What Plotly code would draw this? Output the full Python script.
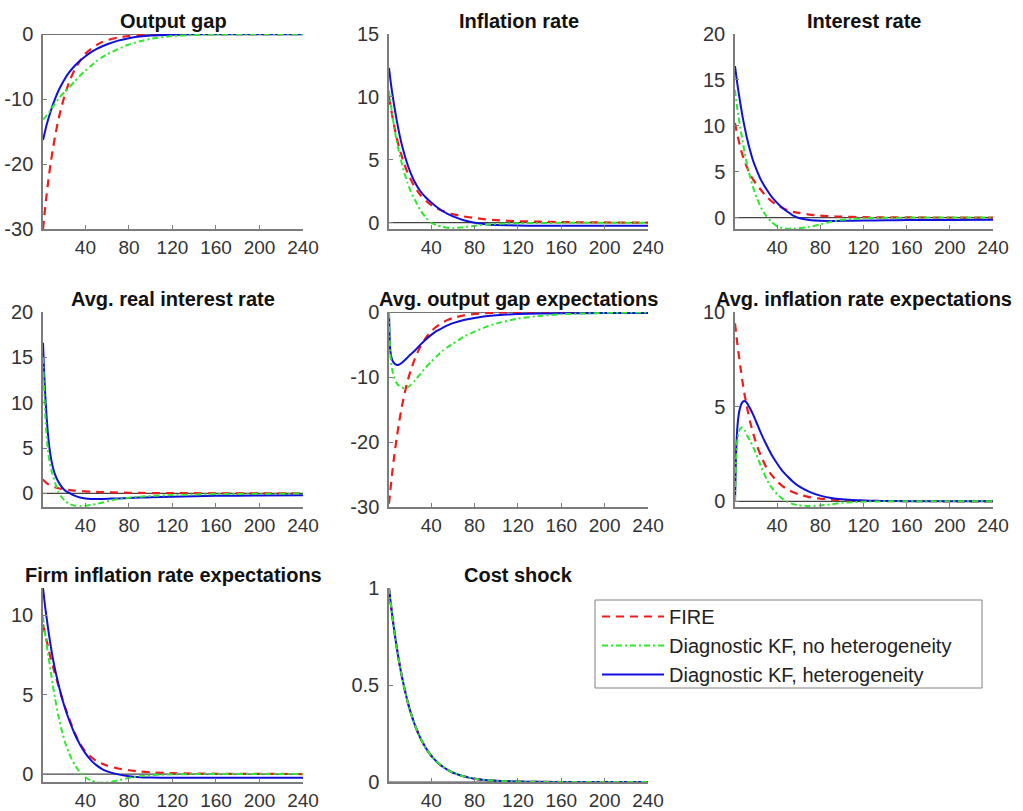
import plotly.graph_objects as go

# ---------------- data ----------------
periods = [1, 2, 3, 4, 6, 8, 10, 12, 15, 18, 21, 25, 30, 35, 40, 45, 50, 55, 60,
           70, 80, 90, 100, 120, 140, 160, 200, 240]
x_tick_values = [40, 80, 120, 160, 200, 240]
series_names = ["FIRE", "Diagnostic KF, no heterogeneity", "Diagnostic KF, heterogeneity"]

titles = ["Output gap", "Inflation rate", "Interest rate",
          "Avg. real interest rate", "Avg. output gap expectations",
          "Avg. inflation rate expectations",
          "Firm inflation rate expectations", "Cost shock"]

# Output gap
gap_fire = [-30, -28.3, -26.7, -25.2, -22.4, -19.9, -17.8, -15.8, -13.3, -11.2, -9.4, -7.4, -5.5, -4.1,
            -3.0, -2.3, -1.7, -1.25, -0.93, -0.52, -0.29, -0.16, -0.09, -0.03, -0.01, 0, 0, 0]
gap_nohet = [-13.1, -13.0, -12.8, -12.6, -12.2, -11.7, -11.2, -10.7, -10.0, -9.4, -8.9, -8.2, -7.3, -6.4,
             -5.6, -4.9, -4.2, -3.6, -3.1, -2.3, -1.6, -1.1, -0.72, -0.3, -0.12, -0.05, -0.01, 0]
gap_het = [-16.3, -15.6, -14.9, -14.2, -13.0, -11.9, -10.9, -10.0, -8.8, -7.8, -6.9, -5.9, -4.9, -4.1,
           -3.4, -2.8, -2.3, -1.9, -1.55, -1.0, -0.62, -0.38, -0.22, -0.08, -0.03, -0.01, 0, 0]

# Inflation rate
infl_fire = [10.0, 9.5, 9.0, 8.5, 7.6, 6.8, 6.1, 5.5, 4.7, 4.0, 3.45, 2.8, 2.2, 1.75,
             1.4, 1.15, 0.95, 0.8, 0.68, 0.5, 0.37, 0.27, 0.2, 0.12, 0.08, 0.05, 0.02, 0.01]
infl_nohet = [10.5, 9.8, 9.2, 8.6, 7.5, 6.5, 5.7, 5.0, 4.0, 3.2, 2.5, 1.8, 1.0, 0.4,
              0.0, -0.2, -0.33, -0.4, -0.42, -0.36, -0.24, -0.15, -0.09, -0.04, -0.02, -0.01, 0, 0]
infl_het = [12.3, 11.6, 10.9, 10.3, 9.2, 8.2, 7.3, 6.5, 5.5, 4.65, 3.95, 3.2, 2.5, 2.0,
            1.6, 1.25, 0.95, 0.7, 0.5, 0.2, 0.0, -0.12, -0.18, -0.23, -0.24, -0.25, -0.25, -0.25]

# Interest rate
rate_fire = [10.3, 9.7, 9.1, 8.6, 7.6, 6.8, 6.1, 5.5, 4.7, 4.1, 3.6, 3.0, 2.3, 1.75,
             1.35, 1.05, 0.8, 0.62, 0.5, 0.32, 0.2, 0.13, 0.09, 0.04, 0.02, 0.01, 0, 0]
rate_nohet = [13.9, 12.9, 12.0, 11.2, 9.7, 8.4, 7.0, 5.9, 4.4, 3.2, 2.2, 1.1, 0.15, -0.5,
              -0.95, -1.15, -1.22, -1.22, -1.18, -1.02, -0.75, -0.45, -0.25, -0.08, -0.03, -0.01, 0, 0]
rate_het = [16.5, 15.6, 14.7, 13.9, 12.4, 11.0, 9.8, 8.7, 7.3, 6.1, 5.2, 4.1, 3.1, 2.25,
            1.6, 1.05, 0.6, 0.2, -0.05, -0.27, -0.35, -0.37, -0.36, -0.33, -0.3, -0.28, -0.26, -0.25]

# Avg. real interest rate
real_fire = [1.55, 1.4, 1.28, 1.17, 1.0, 0.87, 0.76, 0.67, 0.57, 0.49, 0.43, 0.37, 0.31, 0.26,
             0.22, 0.19, 0.16, 0.14, 0.12, 0.09, 0.07, 0.05, 0.04, 0.03, 0.02, 0.01, 0, 0]
real_nohet = [15.0, 11.5, 8.8, 6.8, 4.3, 2.9, 2.0, 1.2, 0.2, -0.4, -0.8, -1.15, -1.35, -1.38,
              -1.35, -1.27, -1.17, -1.03, -0.88, -0.62, -0.47, -0.36, -0.28, -0.18, -0.12, -0.08, -0.04, -0.02]
real_het = [16.6, 13.5, 11.0, 9.0, 6.0, 4.1, 2.9, 2.1, 1.3, 0.75, 0.35, 0.05, -0.25, -0.45,
            -0.57, -0.62, -0.63, -0.62, -0.6, -0.55, -0.5, -0.46, -0.42, -0.36, -0.31, -0.27, -0.23, -0.2]

# Avg. output gap expectations
egap_fire = [-29.5, -27.8, -26.2, -24.7, -21.9, -19.5, -17.3, -15.3, -12.8, -10.7, -9.0, -7.1, -5.3, -3.95,
             -2.95, -2.2, -1.65, -1.2, -0.9, -0.5, -0.28, -0.16, -0.09, -0.03, -0.01, 0, 0, 0]
egap_nohet = [0, -6.0, -7.8, -8.9, -10.2, -10.9, -11.3, -11.55, -11.7, -11.6, -11.2, -10.5, -9.5, -8.5,
              -7.6, -6.8, -6.0, -5.4, -4.85, -3.8, -3.0, -2.3, -1.75, -1.0, -0.58, -0.33, -0.12, -0.05]
egap_het = [0, -5.5, -6.8, -7.4, -7.9, -8.1, -8.1, -7.9, -7.5, -7.0, -6.5, -5.9, -5.0, -4.2,
            -3.5, -2.9, -2.45, -2.05, -1.7, -1.2, -0.9, -0.65, -0.48, -0.3, -0.22, -0.18, -0.15, -0.13]

# Avg. inflation rate expectations
einf_fire = [9.4, 8.9, 8.4, 7.95, 7.1, 6.3, 5.6, 5.0, 4.2, 3.55, 3.0, 2.4, 1.8, 1.38,
             1.05, 0.8, 0.62, 0.48, 0.37, 0.22, 0.14, 0.09, 0.06, 0.03, 0.015, 0.01, 0, 0]
einf_nohet = [0, 2.2, 3.1, 3.55, 3.85, 3.9, 3.75, 3.5, 3.2, 2.85, 2.45, 1.85, 1.2, 0.72,
              0.38, 0.13, -0.05, -0.15, -0.21, -0.25, -0.22, -0.16, -0.08, -0.02, 0, 0, 0, 0]
einf_het = [0, 2.6, 3.75, 4.4, 5.0, 5.25, 5.3, 5.2, 4.9, 4.55, 4.15, 3.6, 3.0, 2.45,
            2.0, 1.6, 1.3, 1.02, 0.8, 0.5, 0.3, 0.18, 0.11, 0.04, 0.02, 0.01, 0, 0]

# Firm inflation rate expectations
finf_fire = [9.4, 9.1, 8.8, 8.5, 7.9, 7.3, 6.8, 6.3, 5.6, 4.9, 4.25, 3.5, 2.6, 1.9,
             1.4, 1.08, 0.82, 0.66, 0.53, 0.35, 0.24, 0.16, 0.11, 0.06, 0.03, 0.02, 0.01, 0]
finf_nohet = [9.9, 9.3, 8.8, 8.3, 7.4, 6.5, 5.6, 4.8, 3.7, 2.8, 2.05, 1.3, 0.6, 0.12,
              -0.2, -0.4, -0.52, -0.55, -0.52, -0.4, -0.24, -0.13, -0.07, -0.02, 0, 0, 0, 0]
finf_het = [11.7, 11.1, 10.5, 10.0, 9.0, 8.1, 7.3, 6.6, 5.7, 4.9, 4.2, 3.4, 2.55, 1.85,
            1.3, 0.88, 0.56, 0.33, 0.17, -0.02, -0.14, -0.2, -0.22, -0.23, -0.23, -0.23, -0.23, -0.23]

# Cost shock (identical for all three)
cost_fire = [1, 0.95, 0.903, 0.857, 0.774, 0.698, 0.63, 0.569, 0.488, 0.418, 0.358, 0.292, 0.226, 0.175,
             0.135, 0.105, 0.081, 0.063, 0.048, 0.029, 0.017, 0.01, 0.006, 0.002, 0.001, 0, 0, 0]
cost_nohet = list(cost_fire)
cost_het = list(cost_fire)

y_tick_values = [[-30, -20, -10, 0], [0, 5, 10, 15], [0, 5, 10, 15, 20], [0, 5, 10, 15, 20],
                 [-30, -20, -10, 0], [0, 5, 10], [0, 5, 10], [0, 0.5, 1]]
y_tick_text = [["-30", "-20", "-10", "0"], ["0", "5", "10", "15"], ["0", "5", "10", "15", "20"],
               ["0", "5", "10", "15", "20"], ["-30", "-20", "-10", "0"], ["0", "5", "10"],
               ["0", "5", "10"], ["0", "0.5", "1"]]
y_ranges = [[-30, 0.02], [-0.5, 15], [-1.25, 20], [-1.5, 20],
            [-30, 0.02], [-0.3, 10], [-0.5, 11.7], [0, 1]]

panels = [(gap_fire, gap_nohet, gap_het), (infl_fire, infl_nohet, infl_het),
          (rate_fire, rate_nohet, rate_het), (real_fire, real_nohet, real_het),
          (egap_fire, egap_nohet, egap_het), (einf_fire, einf_nohet, einf_het),
          (finf_fire, finf_nohet, finf_het), (cost_fire, cost_nohet, cost_het)]

# ---------------- layout ----------------
W, H = 1023, 811
cols_px = [(43, 303), (389, 648), (735, 993)]
rows_px = [(34, 229), (312, 507), (588, 782)]

RED, GREEN, BLUE = "#ee1c1c", "#2ee82e", "#1010dd"
AXC = "#7c7c7c"
FONT = "Liberation Sans, Arial, sans-serif"

fig = go.Figure()
layout = dict(width=W, height=H, margin=dict(l=0, r=0, t=0, b=0, autoexpand=False),
              paper_bgcolor="white", plot_bgcolor="white", showlegend=True,
              font=dict(family=FONT, size=20, color="#333333"))
annotations = []

for i, (fire, nohet, het) in enumerate(panels):
    r, c = divmod(i, 3)
    x0, x1 = cols_px[c]
    y0, y1 = rows_px[r]
    suf = "" if i == 0 else str(i + 1)
    xa, ya = "x" + suf, "y" + suf
    layout["xaxis" + suf] = dict(
        domain=[x0 / W, x1 / W], anchor=ya, range=[1, 240], tickvals=x_tick_values,
        showline=True, linecolor=AXC, linewidth=1.5, ticks="inside", ticklen=4,
        tickcolor=AXC, showgrid=False, zeroline=False, ticklabelstandoff=0,
        tickfont=dict(size=19, color="#333333", family=FONT))
    layout["yaxis" + suf] = dict(
        domain=[1 - y1 / H, 1 - y0 / H], anchor=xa, range=y_ranges[i],
        tickvals=y_tick_values[i], ticktext=y_tick_text[i], showline=True, linecolor=AXC,
        linewidth=1.5, ticks="inside", ticklen=4, tickcolor=AXC, showgrid=False, zeroline=False,
        ticklabelstandoff=4, tickfont=dict(size=20, color="#333333", family=FONT))
    # zero reference line
    fig.add_trace(go.Scatter(x=[periods[0], periods[-1]], y=[0, 0], mode="lines",
                             line=dict(color="#444444", width=1.2), xaxis=xa, yaxis=ya,
                             showlegend=False, hoverinfo="skip"))
    show = (i == 0)
    fig.add_trace(go.Scatter(x=periods, y=fire, mode="lines", name=series_names[0],
                             line=dict(color=RED, width=2.2, dash="8px,6px", shape="spline", smoothing=0.5),
                             xaxis=xa, yaxis=ya, showlegend=show, legendrank=1))
    fig.add_trace(go.Scatter(x=periods, y=het, mode="lines", name=series_names[2],
                             line=dict(color=BLUE, width=2, shape="spline", smoothing=0.5),
                             xaxis=xa, yaxis=ya, showlegend=show, legendrank=3))
    fig.add_trace(go.Scatter(x=periods, y=nohet, mode="lines", name=series_names[1],
                             line=dict(color=GREEN, width=2, dash="6px,3px,2px,3px",
                                       shape="spline", smoothing=0.5),
                             xaxis=xa, yaxis=ya, showlegend=show, legendrank=2))
    annotations.append(dict(text="<b>%s</b>" % titles[i], x=(x0 + x1) / 2 / W, y=1 - y0 / H,
                            xref="paper", yref="paper", xanchor="center", yanchor="bottom",
                            yshift=0, showarrow=False,
                            font=dict(size=20, color="#111111", family=FONT)))

layout["annotations"] = annotations
# legend frame (the legend box of the reference)
layout["shapes"] = [dict(type="rect", xref="paper", yref="paper",
                         x0=595 / W, x1=982 / W, y0=1 - 688 / H, y1=1 - 600 / H,
                         line=dict(color="#808080", width=1), fillcolor="rgba(0,0,0,0)", layer="above")]
layout["legend"] = dict(x=597 / W, y=1 - 597 / H, xanchor="left", yanchor="top",
                        borderwidth=0, bgcolor="rgba(255,255,255,0)",
                        font=dict(size=20, color="#222222", family=FONT),
                        itemwidth=62, tracegroupgap=0)
fig.update_layout(**layout)
fig.write_html("out.html")
